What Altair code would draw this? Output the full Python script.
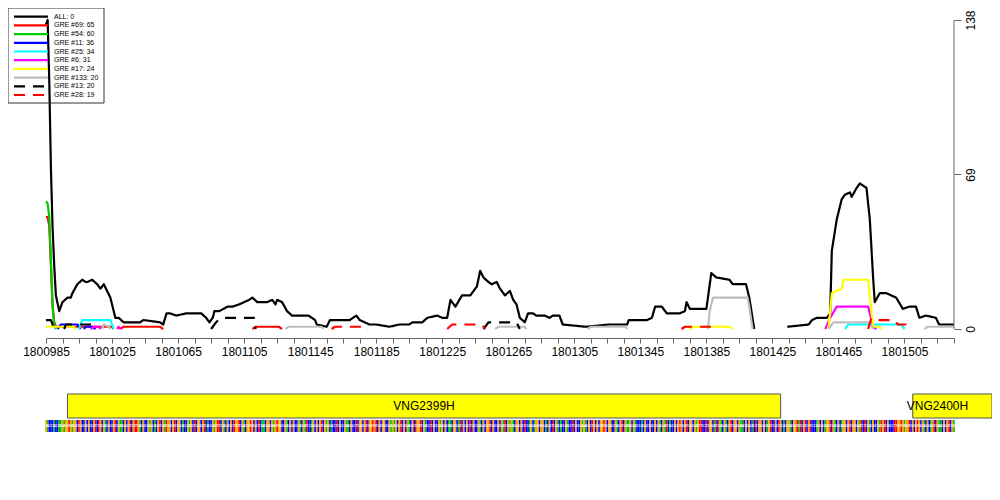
import altair as alt
import pandas as pd

START = 1800985
END = 1801535

SERIES = ["ALL: 0", "GRE #69: 65", "GRE #54: 60", "GRE #11: 36", "GRE #25: 34",
          "GRE #6: 31", "GRE #17: 24", "GRE #133: 20", "GRE #13: 20", "GRE #28: 19"]
COLORS = ["#000000", "#FF0000", "#00CD00", "#0000FF", "#00FFFF",
          "#FF00FF", "#FFFF00", "#BEBEBE", "#000000", "#FF0000"]
DASHES = [[1, 0]] * 8 + [[11, 8], [11, 8]]

# offsets (bp from START) and values
ALL_OFF_A = [0, 1, 2, 3, 4, 5, 6, 8, 10, 13, 15, 16, 19, 22, 24, 25, 28, 31, 33, 35, 37, 39, 41, 42, 44, 47, 49, 57, 59, 69,
             71, 73, 75, 79, 85, 94, 97, 99, 101, 102, 105, 110, 113, 117, 123, 125, 128, 131, 134, 137, 139, 140, 143, 146,
             149, 159, 163, 164, 170, 172, 184, 188, 190, 193, 196, 200, 208, 214, 220, 222, 228, 231, 237, 240, 243, 245,
             248, 252, 257, 261, 263, 265, 268, 270, 273, 275, 278, 281, 283, 285, 287, 290, 292, 295, 297, 302, 305, 307,
             311, 313, 327, 341, 352, 353, 364, 367, 369, 373, 376, 384, 387, 388, 390, 400, 403, 406, 414, 416, 424, 426, 429]
ALL_VAL_A = [136, 138, 110, 71, 45, 28, 15, 8, 12, 14, 14, 16, 20, 22, 21, 21, 22, 20, 18, 20, 17, 14, 8, 5, 5, 3, 3, 3, 4, 3,
             2, 7, 7, 6, 7, 7, 5, 3, 5, 8, 8, 10, 10, 11, 13, 14, 12, 12, 12, 13, 11, 13, 12, 8,
             6, 6, 4, 2, 1, 4, 4, 6, 4, 3, 2, 2, 1, 2, 2, 3, 3, 5, 6, 5, 5, 13,
             10, 15, 15, 19, 26, 23, 21, 20, 21, 18, 15, 17, 13, 11, 5, 3, 7, 7, 6, 6, 5, 6,
             6, 2, 1, 2, 2, 4, 4, 5, 10, 10, 7, 7, 8, 12, 9, 9, 25, 23, 22, 20, 20, 14, 0]
ALL_OFF_B = [449, 462, 464, 467, 473, 475, 476, 479, 482, 484, 487, 488, 491, 493, 495, 497, 499, 501, 502, 505,
             509, 515, 519, 523, 527, 529, 533, 539, 541, 550]
ALL_VAL_B = [1, 2, 4, 5, 5, 7, 35, 49, 58, 60, 61, 59, 63, 65, 64, 63, 49, 23, 12, 16,
             16, 14, 9, 10, 10, 5, 6, 5, 2, 2]

R69_A = ([0, 1, 2, 3, 4, 5, 6, 40, 41], [50, 50, 46, 28, 10, 3, 1, 1, 0])
R69_B = ([45, 47, 69, 71], [0, 1, 1, 0])
R69_C = ([125, 127, 141, 143], [0, 1, 1, 0])

G54_A = ([0, 1, 2, 3, 4, 5, 6], [57, 56, 50, 30, 10, 2, 0])

B11_A = ([7, 9, 19, 21], [0, 2, 2, 0])
B11_B = ([23, 24, 28, 30], [0, 1, 1, 0])

C25_A = ([20, 22, 39, 41], [0, 4, 4, 0])
C25_B = ([484, 486, 518, 520], [0, 2, 2, 0])

M6_A = ([27, 29, 32, 33], [0, 1, 1, 0])
M6_B = ([43, 44, 45], [0, 1, 0])
M6_C = ([472, 475, 479, 498, 499, 501, 503], [0, 5, 10, 10, 7, 1, 0])

Y17_A = ([0, 17, 18], [1, 1, 0])
Y17_B = ([390, 392, 414, 416], [0, 1, 1, 0])
Y17_C = ([474, 476, 482, 483, 498, 501, 505, 506], [0, 16, 18, 22, 22, 1, 1, 0])

GR133_A = ([34, 35, 38, 39], [0, 2, 1, 0])
GR133_B = ([145, 147, 167, 168], [0, 1, 1, 0])
GR133_C = ([272, 274, 290, 291], [0, 1, 1, 0])
GR133_D = ([328, 330, 351, 352], [0, 1, 1, 0])
GR133_E = ([401, 402, 404, 425, 426, 428], [0, 8, 14, 14, 10, 0])
GR133_F = ([474, 477, 499, 501], [0, 3, 3, 0])
GR133_G = ([532, 534, 550], [0, 1, 1])

K13_A = ([0, 3, 5], [4, 4, 0])
K13_B = ([11, 12, 28, 29], [0, 2, 2, 0])
K13_C = ([100, 103, 106, 126, 127], [0, 3, 5, 5, 0])
K13_D = ([265, 268, 285, 287], [0, 3, 3, 0])

R28_A = ([173, 175, 194, 195], [0, 1, 1, 0])
R28_B = ([243, 246, 264, 266], [0, 2, 2, 0])
R28_C = ([385, 387, 405, 407], [0, 1, 1, 0])
R28_D = ([498, 500, 505, 514, 516, 521, 523], [0, 5, 4, 4, 2, 2, 0])

SEGMENTS = {
    "ALL: 0": [(ALL_OFF_A, ALL_VAL_A), (ALL_OFF_B, ALL_VAL_B)],
    "GRE #69: 65": [R69_A, R69_B, R69_C],
    "GRE #54: 60": [G54_A],
    "GRE #11: 36": [B11_A, B11_B],
    "GRE #25: 34": [C25_A, C25_B],
    "GRE #6: 31": [M6_A, M6_B, M6_C],
    "GRE #17: 24": [Y17_A, Y17_B, Y17_C],
    "GRE #133: 20": [GR133_A, GR133_B, GR133_C, GR133_D, GR133_E, GR133_F, GR133_G],
    "GRE #13: 20": [K13_A, K13_B, K13_C, K13_D],
    "GRE #28: 19": [R28_A, R28_B, R28_C, R28_D],
}

GENE_NAMES = ["VNG2399H", "VNG2400H"]
GENE_START = [1800998, 1801510]
GENE_END = [1801430, 1801558]
TRACK_END = 1801540

# DNA sequence strip, one base per position
SEQ = ("GACCCACCAAGAGGTGAGGCTGCCGCGCCGTCTGCGACGCCGTCGAACGC"
       "GTCGTTGACGCCGAGCACGTCGATGGCGTCGGCACCGAGCTCGGCGTCAC"
       "CGAGTTCGACGCGCTGGTCGACGGTGCGCTCAACGGCGAGTGGCCGACGC"
       "GCCGACGATCCAGCGCGTCGAGCACCTCGCCGAACGCCTCGGCGTCGGTG"
       "TCGCGGCCGAGAGCGTCGCGACGCTGGTCGACCTCGCCGAGCGCAACGGC"
       "ATCGCGCTCGCCGACGCGGTCGCCGCGATCGAGACGGCGCTCCAGCAGGC"
       "GGCACGCTCGACACCGACCTCGCCGAGACGCTGCGCGGTGCGGCCGACGT"
       "CGAAGCGACCCACGCCGCCGCGACGATCACCGCGTGCGTCGGCGAGTTCC"
       "TCGGCATCGACGACGTCGGCGAACGCGCACTCGGCGCAGTCCGCTGCACG"
       "GACGGTATCGTCGTCCCAGCGCAGGTCGACGCAGGCGTCGGCGATCTCGA"
       "CGCCGATGTCGCCCTTGGTGAGGTCGCGTGCGACGCAGTCGAACGCGTCGA")
BASES = ["A", "C", "G", "T"]
BASE_COLORS = ["#00C000", "#0000FF", "#FFA500", "#FF0000"]

X_TICKS = list(range(START, END + 1, 10))
Y_TICKS = [0, 69, 138]

FONT = "Liberation Sans"

rows = []
for s, segs in SEGMENTS.items():
    for i, (offs, vals) in enumerate(segs):
        for o, v in zip(offs, vals, strict=True):
            rows.append({"series": s, "seg": f"{s}-{i}", "pos": START + o, "val": v})
lines_df = pd.DataFrame(rows)

genes_df = pd.DataFrame({"name": GENE_NAMES, "start": GENE_START, "end": GENE_END})
seq_df = pd.DataFrame({"pos": [START + i for i in range(len(SEQ))], "base": list(SEQ)})

XS = alt.Scale(domain=[START, END], nice=False, zero=False)
YS = alt.Scale(domain=[-49.573, 143.359], nice=False, zero=False)

X_AXIS = alt.Axis(values=X_TICKS, format="d",
                  labelExpr="(datum.value - 1800985) % 40 == 0 ? datum.label : ''",
                  offset=-102, grid=False, domainColor="#666666", tickColor="#666666",
                  tickSize=5, labelFontSize=12, labelFont=FONT, labelColor="black",
                  labelPadding=3, labelOverlap=False, labelFlush=False, title=None)
Y_AXIS = alt.Axis(orient="right", values=Y_TICKS, domain=False, grid=False,
                  tickColor="#666666", tickSize=7, labelAngle=270, labelAlign="center",
                  labelBaseline="top", labelPadding=4, labelFontSize=12, labelFont=FONT,
                  labelColor="black", title=None)

xenc = alt.X("pos:Q", scale=XS, axis=X_AXIS)
yenc = alt.Y("val:Q", scale=YS, axis=Y_AXIS)

line_layers = []
for s, c, d in zip(SERIES, COLORS, DASHES):
    line_layers.append(
        alt.Chart(lines_df).transform_filter(alt.datum.series == s)
        .mark_line(strokeWidth=2.2, strokeJoin="round", strokeCap="butt", interpolate="linear")
        .encode(x=xenc, y=yenc, detail="seg:N",
                color=alt.value(c), strokeDash=alt.value(d))
    )

yaxis_line = alt.Chart(alt.Data(values=[{}])).mark_rule(color="#666666", strokeWidth=1).encode(
    x=alt.value(908),
    y=alt.Y(datum=0, type="quantitative", scale=YS, axis=Y_AXIS),
    y2=alt.datum(138),
)

gene_rect = alt.Chart(genes_df).mark_rect(fill="#FFFF00", stroke="#555555", strokeWidth=1).encode(
    x=alt.X("start:Q", scale=XS, axis=X_AXIS), x2="end:Q",
    y=alt.value(386), y2=alt.value(410),
)
gene_text = alt.Chart(genes_df).transform_calculate(
    mid=f"(datum.start + min(datum.end, {TRACK_END})) / 2"
).mark_text(fontSize=12, font=FONT, color="black", align="center", baseline="middle").encode(
    x=alt.X("mid:Q", scale=XS, axis=X_AXIS), y=alt.value(398), text="name:N",
)

seq_rect = alt.Chart(seq_df).transform_calculate(
    x0="datum.pos - 0.5", x1="datum.pos + 0.5"
).mark_rect(strokeWidth=0).encode(
    x=alt.X("x0:Q", scale=XS, axis=X_AXIS), x2="x1:Q",
    y=alt.value(412), y2=alt.value(424),
    color=alt.Color("base:N", scale=alt.Scale(domain=BASES, range=BASE_COLORS), legend=None),
)
seq_text = alt.Chart(seq_df).mark_text(
    fontSize=4, font=FONT, color="white", align="center", baseline="middle"
).encode(x=alt.X("pos:Q", scale=XS, axis=X_AXIS), y=alt.value(418), text="base:N")

main = alt.layer(*line_layers, yaxis_line, gene_rect, gene_text, seq_rect, seq_text)

leg_df = pd.DataFrame({"series": SERIES})
leg_y = alt.Y("series:N", sort=SERIES,
              scale=alt.Scale(type="point", domain=SERIES, range=[8.7, 87.0], padding=0),
              axis=None)
leg_box = alt.Chart(alt.Data(values=[{}])).mark_rect(
    fill="white", fillOpacity=0, stroke="#333333", strokeWidth=1
).encode(x=alt.value(-38), x2=alt.value(58), y=alt.value(0), y2=alt.value(95))
leg_lines = alt.Chart(leg_df).mark_rule(strokeWidth=2.2, strokeCap="butt").encode(
    x=alt.value(-32), x2=alt.value(2), y=leg_y,
    color=alt.Color("series:N", scale=alt.Scale(domain=SERIES, range=COLORS), legend=None),
    strokeDash=alt.StrokeDash("series:N", scale=alt.Scale(domain=SERIES, range=DASHES), legend=None),
)
leg_text = alt.Chart(leg_df).mark_text(
    align="left", baseline="middle", fontSize=7, font=FONT, color="black"
).encode(x=alt.value(8), y=leg_y, text="series:N")

legend = alt.layer(leg_box, leg_lines, leg_text)

chart = alt.layer(main, legend).resolve_scale(y="independent", color="independent").properties(
    width=908, height=432,
    padding={"left": 38, "top": 0, "right": 38, "bottom": 20},
    autosize=alt.AutoSizeParams(type="none"),
    view=alt.ViewBackground(stroke="transparent", strokeWidth=0),
).configure_view(stroke="transparent", strokeWidth=0).configure(
    background="white", style={"cell": {"stroke": "transparent", "strokeWidth": 0}}
)

chart.save("out.html", embed_options={"renderer": "svg", "actions": False})
